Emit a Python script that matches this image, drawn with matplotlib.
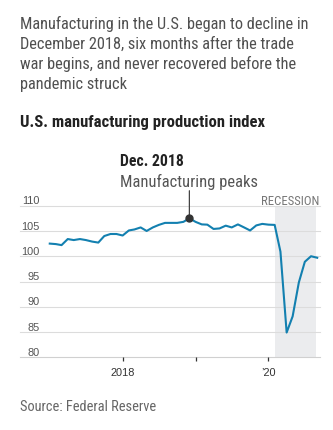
import matplotlib
matplotlib.use('Agg')
import matplotlib.pyplot as plt
from matplotlib import font_manager as fm
import pandas as pd

# ---- data ----
months = pd.date_range('2017-01-01', '2020-09-01', freq='MS')
values = [102.5, 102.4, 102.2, 103.4, 103.2, 103.4, 103.2, 102.9, 102.7, 104.0, 104.4, 104.4,
          104.1, 105.1, 105.3, 105.7, 105.0, 105.7, 106.2, 106.6, 106.6, 106.6, 106.8, 107.5,
          106.8, 106.3, 106.25, 105.4, 105.5, 106.05, 105.7, 106.3, 105.7, 105.1, 106.1, 106.4,
          106.25, 106.2, 100.9, 84.9, 88.1, 94.8, 98.9, 100.0, 99.7]
y_ticks = [80, 85, 90, 95, 100, 105, 110]
x_tick_dates = ['2018-01-01', '2019-01-01', '2020-01-01']
x_tick_labels = ['2018', '', '\u201920']
recession = ('2020-02-01', '2020-08-28')
peak_date = '2018-12-01'
peak_title = 'Dec. 2018'
peak_text = 'Manufacturing peaks'
title_lines = ['Manufacturing in the U.S. began to decline in',
               'December 2018, six months after the trade',
               'war begins, and never recovered before the',
               'pandemic struck']
subtitle = 'U.S. manufacturing production index'
source = 'Source: Federal Reserve'

installed = {f.name for f in fm.fontManager.ttflist}
def pick(prefs):
    for p in prefs:
        if p in installed:
            return [p, 'DejaVu Sans']
    return ['DejaVu Sans']

NARROW = pick(['Roboto Condensed', 'Archivo Narrow', 'PT Sans Narrow', 'Liberation Sans Narrow'])
REG = pick(['Liberation Sans', 'Arimo'])

W, H = 333, 431
fig = plt.figure(figsize=(W / 100, H / 100), dpi=100)
fig.patch.set_facecolor('white')

def fy(y):
    return 1 - y / H

ax = fig.add_axes([20 / W, fy(358.3), 300 / W, 151.6 / H])
ax.set_facecolor('none')
for s in ax.spines.values():
    s.set_visible(False)

ax.set_xlim(pd.Timestamp('2016-08-05'), pd.Timestamp('2020-09-15'))
ax.set_ylim(80, 110)

# recession shading
ax.axvspan(pd.Timestamp(recession[0]), pd.Timestamp(recession[1]),
           color='#ebecee', lw=0, zorder=0)
ax.text(299.3 / 300, 1 + 1.7 / 151.6, 'RECESSION', transform=ax.transAxes,
        ha='right', va='baseline', fontsize=9.2, color='#777777', family=NARROW)

# gridlines and y labels
for yv in y_ticks:
    ax.axhline(yv, color='#dcdcdc' if yv != 80 else '#d0d0d0', lw=0.8, zorder=1, clip_on=False)
    ax.text((40 - 20) / 300, yv + 0.45, str(yv), transform=ax.get_yaxis_transform(),
            ha='right', va='baseline', fontsize=7.9, color='#555555', family=REG)
ax.set_yticks([])

# x ticks
ax.set_xticks([pd.Timestamp(d) for d in x_tick_dates])
ax.set_xticklabels(x_tick_labels, family=REG, fontsize=7.9, color='#333333')
ax.tick_params(axis='x', length=3, width=0.9, color='#333333', pad=4, direction='out')

# line
ax.plot(months, values, color='#1380b0', lw=1.5, zorder=3, solid_joinstyle='round',
        clip_on=False)

# peak annotation
pk = pd.Timestamp(peak_date)
pv = values[list(months).index(pk)]
ax.plot([pk], [pv], 'o', ms=5, color='#333333', zorder=4, clip_on=False)
ax.annotate('', xy=(pk, pv), xytext=(0, 27.6), textcoords='offset pixels',
            arrowprops=dict(arrowstyle='-', color='#444444', lw=0.9, shrinkA=0, shrinkB=0))
ax.annotate(peak_title, xy=(pk, pv), xytext=(-69.3, 53.3), textcoords='offset pixels',
            ha='left', va='baseline', fontsize=11.3, fontweight='bold', color='#222222',
            family=NARROW)
ax.annotate(peak_text, xy=(pk, pv), xytext=(-69.3, 32.6), textcoords='offset pixels',
            ha='left', va='baseline', fontsize=11.9, color='#555555', family=NARROW)

# title & subtitle & source
for i, line in enumerate(title_lines):
    fig.text(20.5 / W, fy(29.3 + 20 * i), line, ha='left', va='baseline',
             fontsize=11.8, color='#505050', family=NARROW)
fig.text(20.5 / W, fy(126.7), subtitle, ha='left', va='baseline',
         fontsize=11.95, fontweight='bold', color='#222222', family=NARROW)
fig.text(20.5 / W, fy(410.7), source, ha='left', va='baseline',
         fontsize=10.4, color='#666666', family=NARROW)

fig.savefig('out.png', dpi=100, facecolor='white')
